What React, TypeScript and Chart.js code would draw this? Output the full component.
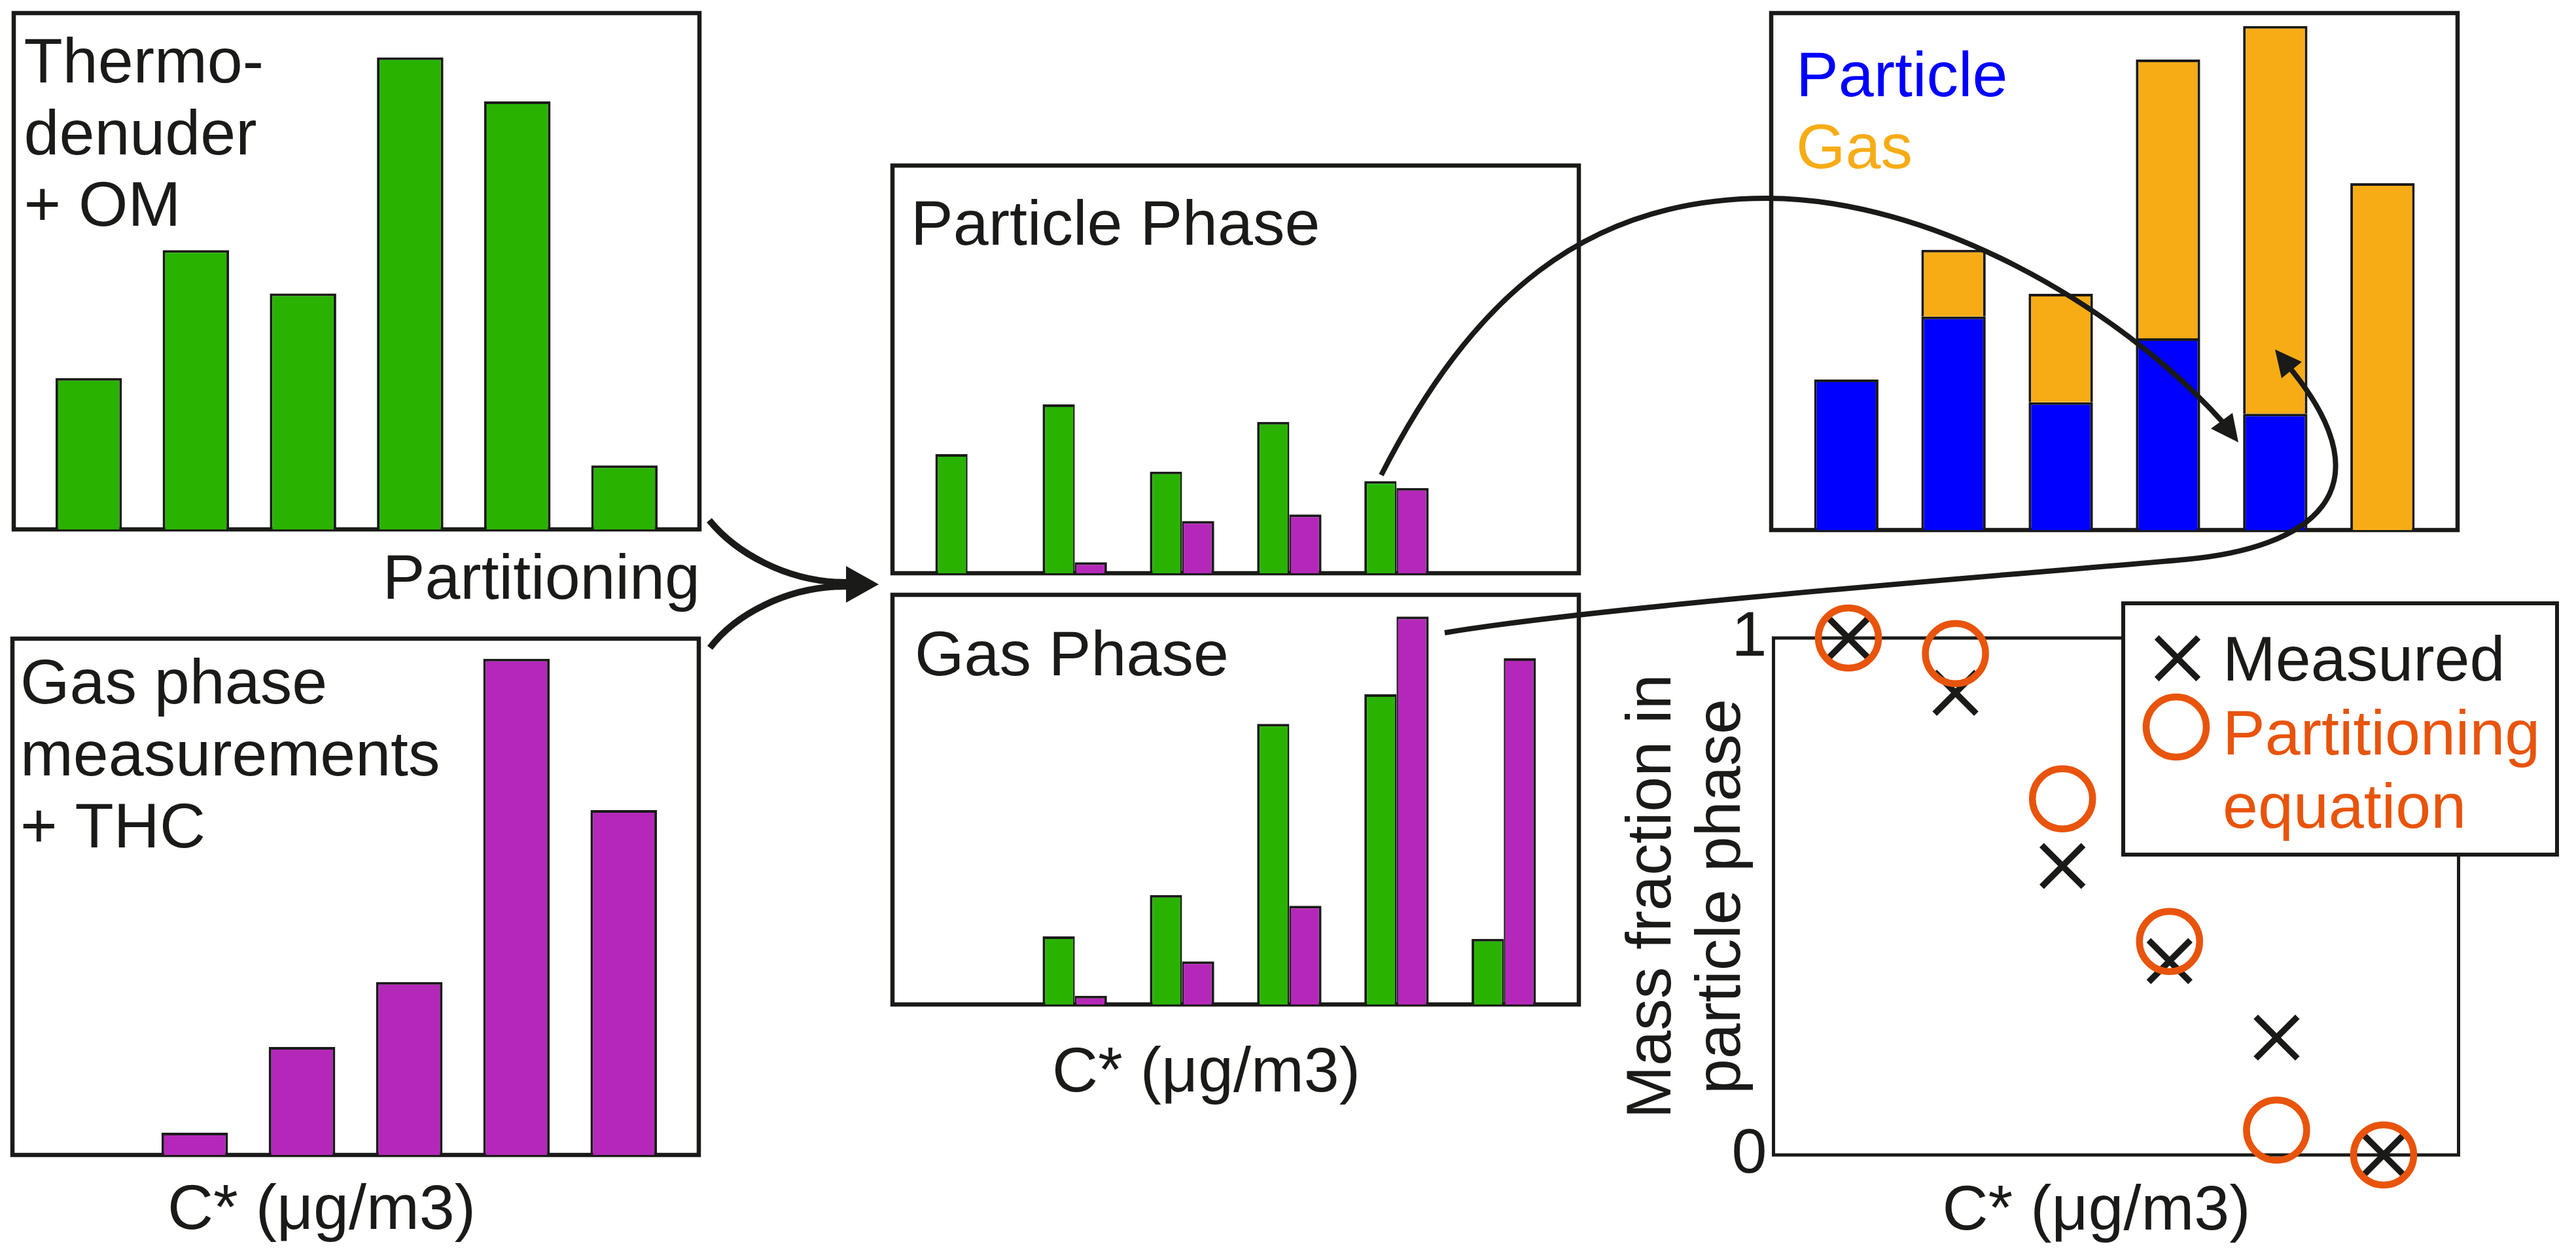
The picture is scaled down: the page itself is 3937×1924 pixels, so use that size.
import React, { useEffect, useRef } from 'react';
import { Chart, registerables } from 'chart.js';

Chart.register(...registerables);

// ---------------- data ----------------
const cStarBins = ['bin 1', 'bin 2', 'bin 3', 'bin 4', 'bin 5', 'bin 6'];
const thermodenuderOM = [29.3, 54.1, 45.7, 91.4, 82.9, 12.4];
const gasPhaseTHC = [null, 4.3, 20.9, 33.5, 96.1, 66.8];
const particleFromOM = [29.2, 41.4, 24.9, 37.1, 22.6, null];
const particleFromTHC = [null, 2.7, 12.8, 14.4, 20.9, null];
const gasFromOM = [null, 16.6, 26.7, 68.5, 75.7, 16.0];
const gasFromTHC = [null, 2.1, 10.5, 24.1, 94.7, 84.5];
const combinedParticle = [29.1, 41.3, 24.7, 37.1, 22.5, null];
const combinedGas = [null, 12.9, 21.0, 53.9, 75.0, 67.1];
const measuredFraction = [1.0, 0.894, 0.559, 0.375, 0.227, 0.0];
const equationFraction = [1.0, 0.97, 0.689, 0.413, 0.048, 0.0];
const fractionTicks = [0, 1];
const binRange = [-0.7, 5.7];
const amountRange = [0, 100];

// ---------------- styles / layout ----------------
const PAGE_W = 3937;
const PAGE_H = 1924;
const FONT = '"Liberation Sans", Arial, Helvetica, sans-serif';
const FONT_SIZE = 97;
const INK = '#1a1a18';
const GREEN = '#29b300';
const MAGENTA = '#b428b9';
const BLUE = '#0000ff';
const ORANGE = '#f7ac16';
const RED_ORANGE = '#e8540c';

type Region = { x: number; y: number; w: number; h: number };
type Box = { x0: number; y0: number; x1: number; y1: number };
type Label = { text: string; x: number; y: number; color?: string; align?: CanvasTextAlign };

const regions: Record<string, Region> = {
  om: { x: 0, y: 0, w: 1100, h: 830 },
  thc: { x: 0, y: 830, w: 1100, h: 1094 },
  part: { x: 1100, y: 0, w: 1340, h: 893 },
  gas: { x: 1100, y: 893, w: 1340, h: 1031 },
  stack: { x: 2440, y: 0, w: 1497, h: 880 },
  frac: { x: 2440, y: 880, w: 1497, h: 1044 },
};

const boxes: Record<string, Box> = {
  om: { x0: 21, y0: 20, x1: 1069, y1: 809 },
  thc: { x0: 19, y0: 976, x1: 1068, y1: 1765 },
  part: { x0: 1364, y0: 253, x1: 2413, y1: 876 },
  gas: { x0: 1364, y0: 909, x1: 2413, y1: 1535 },
  stack: { x0: 2707, y0: 20, x1: 3756, y1: 810 },
  frac: { x0: 2710.5, y0: 975, x1: 3757.5, y1: 1765 },
};

const toXY = (vals: (number | null)[]) => vals.map((y, i) => ({ x: i, y }));

function paddingFor(region: Region, box: Box, leftOverride?: number) {
  return {
    left: leftOverride ?? box.x0 - region.x,
    top: box.y0 - region.y,
    right: region.x + region.w - box.x1,
    bottom: region.y + region.h - box.y1,
  };
}

function decorPlugin(region: Region, boxLine: number, labels: Label[], extra?: (chart: any, ctx: CanvasRenderingContext2D) => void) {
  return {
    id: 'panelDecor',
    beforeDatasetsDraw(chart: any) {
      const a = chart.chartArea;
      const ctx = chart.ctx;
      ctx.save();
      ctx.strokeStyle = INK;
      ctx.lineWidth = boxLine;
      ctx.strokeRect(a.left, a.top, a.right - a.left, a.bottom - a.top);
      ctx.restore();
    },
    afterDraw(chart: any) {
      const ctx = chart.ctx as CanvasRenderingContext2D;
      ctx.save();
      ctx.translate(-region.x, -region.y);
      ctx.font = `${FONT_SIZE}px ${FONT}`;
      ctx.textBaseline = 'alphabetic';
      for (const l of labels) {
        ctx.fillStyle = l.color ?? INK;
        ctx.textAlign = l.align ?? 'left';
        ctx.fillText(l.text, l.x, l.y);
      }
      if (extra) extra(chart, ctx);
      ctx.restore();
    },
  };
}

const baseOptions = (region: Region, box: Box, leftOverride?: number) => ({
  responsive: false,
  maintainAspectRatio: false,
  animation: false,
  devicePixelRatio: 1,
  events: [],
  layout: { padding: paddingFor(region, box, leftOverride) },
  plugins: { legend: { display: false }, tooltip: { enabled: false }, title: { display: false } },
});

const binAxis = (stacked = false) => ({
  type: 'linear',
  min: binRange[0],
  max: binRange[1],
  display: false,
  offset: false,
  stacked,
  afterBuildTicks: (s: any) => {
    s.ticks = cStarBins.map((_, i) => ({ value: i }));
  },
});

const amountAxis = (stacked = false) => ({
  type: 'linear',
  min: amountRange[0],
  max: amountRange[1],
  display: false,
  stacked,
});

const BW = 4;
const singleBar = (label: string, vals: (number | null)[], color: string) => ({
  label,
  data: toXY(vals),
  backgroundColor: color,
  borderColor: INK,
  borderWidth: BW,
  barPercentage: 0.62,
  categoryPercentage: 1,
});

const pairBar = (label: string, vals: (number | null)[], color: string, side: 'left' | 'right') => ({
  label,
  data: toXY(vals),
  backgroundColor: color,
  borderColor: INK,
  borderWidth: side === 'left' ? { left: BW, top: BW, right: 2.5, bottom: 0 } : { left: 2.5, top: BW, right: BW, bottom: 0 },
  barPercentage: 1,
  categoryPercentage: 0.6,
});

// ---------------- chart configs ----------------
function omConfig() {
  const r = regions.om;
  return {
    type: 'bar',
    data: { datasets: [singleBar('Thermodenuder + OM', thermodenuderOM, GREEN)] },
    options: { ...baseOptions(r, boxes.om), scales: { x: binAxis(), y: amountAxis() } },
    plugins: [
      decorPlugin(r, 6.5, [
        { text: 'Thermo-', x: 36.5, y: 126 },
        { text: 'denuder', x: 36.5, y: 236 },
        { text: '+ OM', x: 36.5, y: 345 },
      ]),
    ],
  };
}

function thcConfig() {
  const r = regions.thc;
  return {
    type: 'bar',
    data: { datasets: [singleBar('Gas phase measurements + THC', gasPhaseTHC, MAGENTA)] },
    options: { ...baseOptions(r, boxes.thc), scales: { x: binAxis(), y: amountAxis() } },
    plugins: [
      decorPlugin(r, 6.5, [
        { text: 'Partitioning', x: 1070, y: 915, align: 'right' },
        { text: 'Gas phase', x: 31, y: 1075 },
        { text: 'measurements', x: 31, y: 1185 },
        { text: '+ THC', x: 31, y: 1295 },
        { text: 'C* (μg/m3)', x: 491.5, y: 1878, align: 'center' },
      ]),
    ],
  };
}

function partConfig() {
  const r = regions.part;
  return {
    type: 'bar',
    data: {
      datasets: [
        pairBar('Particle phase (OM)', particleFromOM, GREEN, 'left'),
        pairBar('Particle phase (THC)', particleFromTHC, MAGENTA, 'right'),
      ],
    },
    options: { ...baseOptions(r, boxes.part), scales: { x: binAxis(), y: amountAxis() } },
    plugins: [decorPlugin(r, 6.5, [{ text: 'Particle Phase', x: 1392, y: 374 }])],
  };
}

function gasConfig() {
  const r = regions.gas;
  return {
    type: 'bar',
    data: {
      datasets: [
        pairBar('Gas phase (OM)', gasFromOM, GREEN, 'left'),
        pairBar('Gas phase (THC)', gasFromTHC, MAGENTA, 'right'),
      ],
    },
    options: { ...baseOptions(r, boxes.gas), scales: { x: binAxis(), y: amountAxis() } },
    plugins: [
      decorPlugin(r, 6.5, [
        { text: 'Gas Phase', x: 1398, y: 1032 },
        { text: 'C* (μg/m3)', x: 1843.5, y: 1668, align: 'center' },
      ]),
    ],
  };
}

function stackConfig() {
  const r = regions.stack;
  const bar = (label: string, vals: (number | null)[], color: string) => ({
    label,
    data: toXY(vals),
    backgroundColor: color,
    borderColor: INK,
    borderWidth: BW,
    barPercentage: 1,
    categoryPercentage: 0.6,
  });
  return {
    type: 'bar',
    data: { datasets: [bar('Particle', combinedParticle, BLUE), bar('Gas', combinedGas, ORANGE)] },
    options: { ...baseOptions(r, boxes.stack), scales: { x: binAxis(true), y: amountAxis(true) } },
    plugins: [
      decorPlugin(r, 6.5, [], (chart, ctx) => {
        // legend: coloured dataset names
        const baselines = [147, 257];
        ctx.textAlign = 'left';
        chart.data.datasets.forEach((ds: any, i: number) => {
          ctx.fillStyle = ds.backgroundColor;
          ctx.fillText(ds.label, 2745, baselines[i]);
        });
      }),
    ],
  };
}

function drawMarker(ctx: CanvasRenderingContext2D, ds: any, x: number, y: number) {
  const r = ds.pointRadius;
  ctx.save();
  ctx.lineWidth = ds.pointBorderWidth;
  ctx.strokeStyle = ds.pointBorderColor;
  ctx.beginPath();
  if (ds.pointStyle === 'crossRot') {
    const d = r * Math.SQRT1_2;
    ctx.moveTo(x - d, y - d);
    ctx.lineTo(x + d, y + d);
    ctx.moveTo(x + d, y - d);
    ctx.lineTo(x - d, y + d);
  } else {
    ctx.arc(x, y, r, 0, Math.PI * 2);
  }
  ctx.stroke();
  ctx.restore();
}

function fracConfig() {
  const r = regions.frac;
  const legendBox = { x0: 3245, y0: 922, x1: 3908, y1: 1306 };
  const legendRows = [
    { mx: 3328, my: 1006, tx: 3397, baselines: [1040] },
    { mx: 3326, my: 1111, tx: 3397, baselines: [1153, 1265] },
  ];
  return {
    type: 'scatter',
    data: {
      datasets: [
        {
          label: 'Measured',
          legendLines: ['Measured'],
          legendColor: INK,
          data: toXY(measuredFraction),
          pointStyle: 'crossRot',
          pointRadius: 45,
          pointBorderWidth: 9.5,
          pointBorderColor: INK,
          pointBackgroundColor: INK,
          borderColor: INK,
          backgroundColor: INK,
          clip: false,
          order: 1,
        },
        {
          label: 'Partitioning equation',
          legendLines: ['Partitioning', 'equation'],
          legendColor: RED_ORANGE,
          data: toXY(equationFraction),
          pointStyle: 'circle',
          pointRadius: 46,
          pointBorderWidth: 10.5,
          pointBorderColor: RED_ORANGE,
          pointBackgroundColor: 'rgba(0,0,0,0)',
          borderColor: RED_ORANGE,
          backgroundColor: 'rgba(0,0,0,0)',
          clip: false,
          order: 0,
        },
      ],
    },
    options: {
      ...baseOptions(r, boxes.frac, 20),
      scales: {
        x: { type: 'linear', min: binRange[0], max: binRange[1], display: false },
        y: {
          type: 'linear',
          min: 0,
          max: 1,
          afterBuildTicks: (s: any) => {
            s.ticks = fractionTicks.map((v) => ({ value: v }));
          },
          afterFit: (s: any) => {
            s.width = 250.5;
          },
          ticks: { font: { family: FONT, size: FONT_SIZE }, color: INK, padding: 10 },
          grid: { display: false, drawTicks: false },
          border: { display: false },
          title: {
            display: true,
            text: ['Mass fraction in', 'particle phase'],
            font: { family: FONT, size: FONT_SIZE, lineHeight: 1.1 },
            color: INK,
            padding: { top: 12.5, bottom: 0 },
          },
        },
      },
    },
    plugins: [
      decorPlugin(r, 5, [{ text: 'C* (μg/m3)', x: 3204, y: 1879, align: 'center' }], (chart, ctx) => {
        ctx.fillStyle = '#ffffff';
        ctx.fillRect(legendBox.x0, legendBox.y0, legendBox.x1 - legendBox.x0, legendBox.y1 - legendBox.y0);
        ctx.strokeStyle = INK;
        ctx.lineWidth = 6;
        ctx.strokeRect(legendBox.x0, legendBox.y0, legendBox.x1 - legendBox.x0, legendBox.y1 - legendBox.y0);
        ctx.textAlign = 'left';
        chart.data.datasets.forEach((ds: any, i: number) => {
          const row = legendRows[i];
          drawMarker(ctx, ds, row.mx, row.my);
          ctx.fillStyle = ds.legendColor;
          ds.legendLines.forEach((t: string, j: number) => ctx.fillText(t, row.tx, row.baselines[j]));
        });
      }),
    ],
  };
}

// ---------------- components ----------------
function ChartPanel({ region, make }: { region: Region; make: () => any }) {
  const ref = useRef<HTMLCanvasElement | null>(null);
  useEffect(() => {
    if (!ref.current) return;
    const chart = new Chart(ref.current, make());
    return () => chart.destroy();
  }, []);
  return (
    <canvas
      ref={ref}
      width={region.w}
      height={region.h}
      style={{ position: 'absolute', left: region.x, top: region.y, width: region.w, height: region.h }}
    />
  );
}

function Arrows() {
  return (
    <svg
      width={PAGE_W}
      height={PAGE_H}
      style={{ position: 'absolute', left: 0, top: 0, pointerEvents: 'none' }}
    >
      <g fill="none" stroke={INK} strokeLinecap="butt">
        <path d="M1084,795 C1122,842 1200,890 1294,890" strokeWidth={10} />
        <path d="M1085,990 C1122,941 1200,896 1294,896" strokeWidth={10} />
        <path d="M2111,726 C2247,459 2420,303 2700,303 C2950,303 3235,465 3397,645" strokeWidth={8} />
        <path d="M2208,967 C2458,925 3140,873 3340,855 C3530,838 3653,752 3502,565" strokeWidth={8} />
      </g>
      <g fill={INK}>
        <polygon points="1293,865 1343,893 1293,921" />
        <polygon points="3421,676 3379,655 3412,631" />
        <polygon points="3477,534 3487,578 3518,553" />
      </g>
    </svg>
  );
}

export default function App() {
  return (
    <div
      style={{
        position: 'fixed',
        left: 0,
        top: 0,
        width: PAGE_W,
        height: PAGE_H,
        background: '#ffffff',
        overflow: 'hidden',
      }}
    >
      <ChartPanel region={regions.om} make={omConfig} />
      <ChartPanel region={regions.thc} make={thcConfig} />
      <ChartPanel region={regions.part} make={partConfig} />
      <ChartPanel region={regions.gas} make={gasConfig} />
      <ChartPanel region={regions.stack} make={stackConfig} />
      <ChartPanel region={regions.frac} make={fracConfig} />
      <Arrows />
    </div>
  );
}
